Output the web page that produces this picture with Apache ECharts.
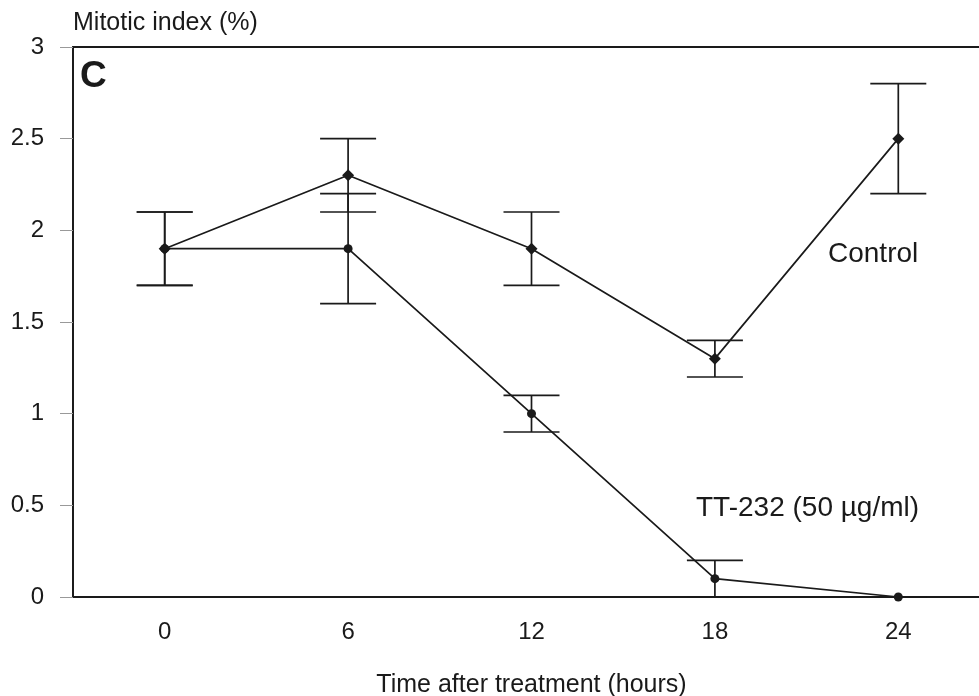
<!DOCTYPE html>
<html>
<head>
<meta charset="utf-8">
<script src="https://cdn.jsdelivr.net/npm/echarts@6/dist/echarts.min.js"></script>
<style>
  html, body { margin: 0; padding: 0; background: #fff; }
  #chart { width: 979px; height: 696px; }
</style>
</head>
<body>
<div id="chart"></div>
<script>
// hours after treatment
var hours = ['0', '6', '12', '18', '24'];

// Control
var controlMean = [1.9, 2.3, 1.9, 1.3, 2.5];
var controlLow  = [1.7, 2.1, 1.7, 1.2, 2.2];
var controlHigh = [2.1, 2.5, 2.1, 1.4, 2.8];

// TT-232 (50 ug/ml)
var ttMean = [1.9, 1.9, 1.0, 0.1, 0.0];
var ttLow  = [1.7, 1.6, 0.9, 0.0, 0.0];
var ttHigh = [2.1, 2.2, 1.1, 0.2, 0.0];

var yTicks = [0, 0.5, 1, 1.5, 2, 2.5, 3];

var ink = '#1a1a1a';
var font = '"Liberation Sans", Arial, Helvetica, sans-serif';

function errData(lo, hi) {
  return hours.map(function (h, i) { return [i, lo[i], hi[i]]; });
}

function errorBars(params, api) {
  var lo = api.coord([api.value(0), api.value(1)]);
  var hi = api.coord([api.value(0), api.value(2)]);
  var hw = 28;
  var st = { stroke: ink, lineWidth: 1.7 };
  return {
    type: 'group',
    children: [
      { type: 'line', shape: { x1: lo[0], y1: lo[1], x2: hi[0], y2: hi[1] }, style: st },
      { type: 'line', shape: { x1: hi[0] - hw, y1: hi[1], x2: hi[0] + hw, y2: hi[1] }, style: st },
      { type: 'line', shape: { x1: lo[0] - hw, y1: lo[1], x2: lo[0] + hw, y2: lo[1] }, style: st }
    ]
  };
}

var chart = echarts.init(document.getElementById('chart'));

chart.setOption({
  backgroundColor: '#fff',
  animation: false,
  grid: {
    left: 73, top: 47, bottom: 99, right: -11,
    show: true, borderColor: ink, borderWidth: 1.8,
    outerBoundsMode: 'none'
  },
  xAxis: {
    type: 'category',
    data: hours,
    boundaryGap: true,
    name: 'Time after treatment (hours)',
    nameLocation: 'middle',
    nameGap: 76,
    nameTextStyle: { color: ink, fontSize: 25, fontFamily: font },
    axisLine: { lineStyle: { color: ink, width: 1.8 } },
    axisTick: { alignWithLabel: true, length: 12, lineStyle: { color: '#999', width: 1 } },
    axisLabel: { color: ink, fontSize: 24, fontFamily: font, margin: 23 },
    splitLine: { show: false }
  },
  yAxis: {
    type: 'value',
    min: 0, max: 3, interval: 0.5,
    axisLine: { show: true, lineStyle: { color: ink, width: 1.8 } },
    axisTick: { show: true, length: 13, lineStyle: { color: '#999', width: 1 } },
    axisLabel: {
      color: ink, fontSize: 24, fontFamily: font, margin: 29,
      formatter: function (v) { return yTicks.indexOf(v) >= 0 ? String(v) : ''; }
    },
    splitLine: { show: false }
  },
  graphic: [
    { type: 'text', left: 73, top: 11, style: { text: 'Mitotic index (%)', fill: ink, font: '25px ' + font } },
    { type: 'text', left: 80, top: 58, style: { text: 'C', fill: ink, font: 'bold 37px ' + font } },
    { type: 'text', left: 828, top: 240, style: { text: 'Control', fill: ink, font: '28px ' + font } },
    { type: 'text', left: 696, top: 494, style: { text: 'TT-232 (50 \u00b5g/ml)', fill: ink, font: '28px ' + font } }
  ],
  series: [
    {
      name: 'Control',
      type: 'line',
      data: controlMean,
      symbol: 'diamond',
      symbolSize: 12,
      itemStyle: { color: ink },
      lineStyle: { color: ink, width: 1.7 },
      z: 3
    },
    {
      name: 'TT-232 (50 \u00b5g/ml)',
      type: 'line',
      data: ttMean,
      symbol: 'circle',
      symbolSize: 9,
      itemStyle: { color: ink },
      lineStyle: { color: ink, width: 1.7 },
      z: 3
    },
    {
      type: 'custom',
      renderItem: errorBars,
      data: errData(controlLow, controlHigh),
      encode: { x: 0, y: [1, 2] },
      z: 2
    },
    {
      type: 'custom',
      renderItem: errorBars,
      data: errData(ttLow, ttHigh),
      encode: { x: 0, y: [1, 2] },
      z: 2
    }
  ]
});
</script>
</body>
</html>
